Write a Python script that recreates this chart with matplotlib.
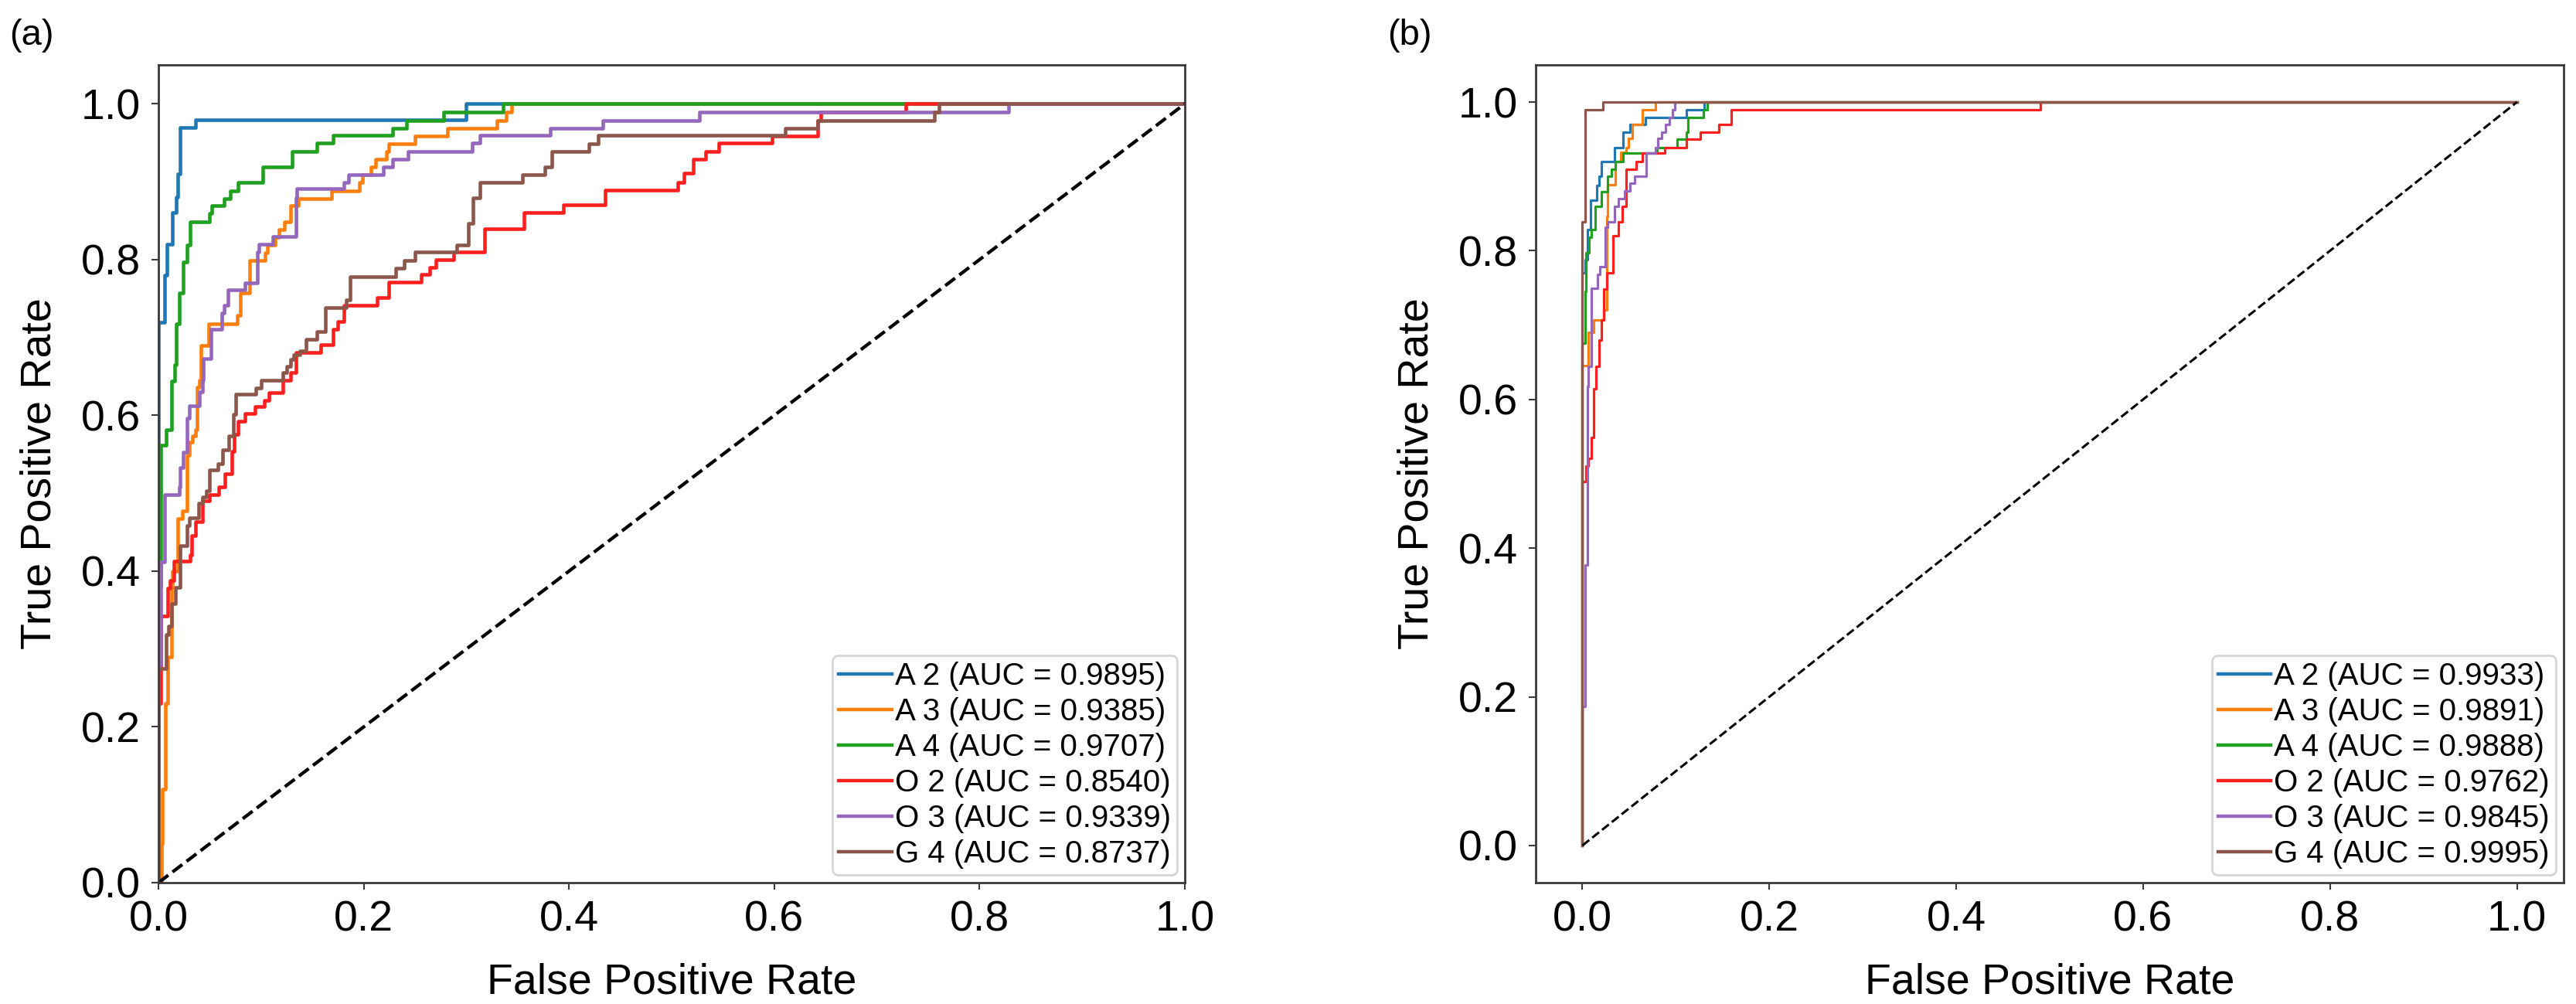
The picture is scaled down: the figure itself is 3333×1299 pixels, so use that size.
import matplotlib
matplotlib.use("Agg")
import matplotlib.pyplot as plt

plt.rcParams["font.family"] = ["Liberation Sans", "DejaVu Sans"]

# class names, colours and AUC values shown in the legends
CLASSES = ["A 2", "A 3", "A 4", "O 2", "O 3", "G 4"]
COLORS = ["#1f77b4", "#ff7f0e", "#1fa01f", "#ff1f1f", "#9467bd", "#8c564b"]
AUC_A = [0.9895, 0.9385, 0.9707, 0.8540, 0.9339, 0.8737]
AUC_B = [0.9933, 0.9891, 0.9888, 0.9762, 0.9845, 0.9995]

TICKS = [0.0, 0.2, 0.4, 0.6, 0.8, 1.0]

# ROC corner points, panel (a): at each fpr the curve steps up to tpr
a_A2_fpr = [0, 0, 0.006, 0.008, 0.0135, 0.017, 0.019, 0.021, 0.036, 0.300, 1.0]
a_A2_tpr = [0, 0.72, 0.78, 0.82, 0.86, 0.88, 0.91, 0.97, 0.98, 1.0, 1.0]

a_A3_fpr = [0, 0.003, 0.004, 0.007, 0.0088, 0.0125, 0.0135, 0.019, 0.0235, 0.0275,
            0.030, 0.0335, 0.036, 0.0375, 0.040, 0.0415, 0.049, 0.0765, 0.080, 0.089,
            0.104, 0.1065, 0.114, 0.1178, 0.1228, 0.129, 0.1366, 0.169, 0.1955, 0.199,
            0.207, 0.2118, 0.2218, 0.2243, 0.250, 0.282, 0.330, 0.339, 0.344, 1.0]
a_A3_tpr = [0, 0.05, 0.12, 0.23, 0.29, 0.38, 0.40, 0.467, 0.477, 0.549,
            0.566, 0.574, 0.582, 0.636, 0.645, 0.69, 0.718, 0.728, 0.757, 0.799,
            0.809, 0.819, 0.829, 0.839, 0.849, 0.869, 0.878, 0.888, 0.899, 0.909,
            0.919, 0.929, 0.939, 0.949, 0.959, 0.969, 0.979, 0.989, 1.0, 1.0]

a_A4_fpr = [0, 0, 0.0025, 0.0075, 0.0125, 0.016, 0.0175, 0.0205, 0.024, 0.0275,
            0.031, 0.050, 0.052, 0.064, 0.070, 0.0775, 0.1015, 0.130, 0.154, 0.1705,
            0.228, 0.242, 0.278, 0.336, 1.0]
a_A4_tpr = [0, 0.38, 0.562, 0.582, 0.644, 0.665, 0.718, 0.757, 0.797, 0.819,
            0.849, 0.859, 0.869, 0.878, 0.888, 0.899, 0.919, 0.939, 0.950, 0.960,
            0.969, 0.979, 0.989, 1.0, 1.0]

a_O2_fpr = [0, 0, 0.0025, 0.0088, 0.0113, 0.015, 0.031, 0.0326, 0.036, 0.0426,
            0.050, 0.0589, 0.065, 0.0714, 0.074, 0.0777, 0.084, 0.094, 0.1028, 0.1078,
            0.1216, 0.129, 0.134, 0.158, 0.170, 0.175, 0.181, 0.2128, 0.2243, 0.2557,
            0.2644, 0.2703, 0.2874, 0.318, 0.3564, 0.3947, 0.4352, 0.5059, 0.5117, 0.5214,
            0.533, 0.546, 0.598, 0.642, 0.6456, 0.7283, 1.0]
a_O2_tpr = [0, 0.23, 0.342, 0.378, 0.388, 0.413, 0.421, 0.446, 0.463, 0.490,
            0.498, 0.508, 0.525, 0.554, 0.576, 0.592, 0.602, 0.611, 0.619, 0.629,
            0.645, 0.655, 0.681, 0.691, 0.711, 0.721, 0.741, 0.751, 0.771, 0.781,
            0.790, 0.800, 0.810, 0.840, 0.860, 0.870, 0.889, 0.899, 0.911, 0.929,
            0.939, 0.950, 0.959, 0.979, 0.989, 1.0, 1.0]

a_O3_fpr = [0, 0, 0.0025, 0.0063, 0.020, 0.0213, 0.0238, 0.0275, 0.030, 0.040,
            0.0426, 0.044, 0.0515, 0.0615, 0.064, 0.0677, 0.084, 0.0965, 0.098, 0.1115,
            0.134, 0.135, 0.1805, 0.1855, 0.2193, 0.228, 0.243, 0.306, 0.313, 0.382,
            0.433, 0.527, 0.828, 1.0]
a_O3_tpr = [0, 0.28, 0.412, 0.498, 0.508, 0.533, 0.553, 0.596, 0.612, 0.630,
            0.645, 0.673, 0.711, 0.731, 0.741, 0.761, 0.770, 0.810, 0.820, 0.830,
            0.879, 0.891, 0.899, 0.909, 0.919, 0.929, 0.939, 0.950, 0.960, 0.969,
            0.979, 0.989, 1.0, 1.0]

a_G4_fpr = [0, 0, 0.0075, 0.010, 0.0125, 0.0163, 0.0213, 0.0275, 0.030, 0.0389,
            0.0426, 0.0464, 0.050, 0.0577, 0.0627, 0.0689, 0.0727, 0.0752, 0.0952, 0.1003,
            0.1216, 0.1253, 0.129, 0.1316, 0.1378, 0.144, 0.154, 0.163, 0.183, 0.1868,
            0.2311, 0.2398, 0.250, 0.2903, 0.3018, 0.3064, 0.3133, 0.3547, 0.3765, 0.3834,
            0.4196, 0.4283, 0.611, 0.642, 0.7559, 0.7605, 1.0]
a_G4_tpr = [0, 0.275, 0.319, 0.329, 0.358, 0.379, 0.433, 0.459, 0.468, 0.487,
            0.495, 0.503, 0.530, 0.538, 0.556, 0.574, 0.601, 0.627, 0.635, 0.645,
            0.655, 0.663, 0.672, 0.678, 0.683, 0.698, 0.708, 0.738, 0.748, 0.778,
            0.789, 0.799, 0.810, 0.819, 0.847, 0.879, 0.899, 0.909, 0.919, 0.939,
            0.949, 0.960, 0.969, 0.979, 0.989, 1.0, 1.0]

# panel (b)
b_A2_fpr = [0, 0, 0.0028, 0.0052, 0.0084, 0.0155, 0.018, 0.0204, 0.0342, 0.0438,
            0.0507, 0.0672, 0.1112, 0.1305, 1.0]
b_A2_tpr = [0, 0.77, 0.788, 0.829, 0.868, 0.888, 0.900, 0.920, 0.939, 0.960,
            0.970, 0.979, 0.990, 1.0, 1.0]

b_A3_fpr = [0, 0, 0.0066, 0.0121, 0.0231, 0.0259, 0.0273, 0.0355, 0.041, 0.0466,
            0.0493, 0.0534, 0.0645, 0.0782, 1.0]
b_A3_tpr = [0, 0.646, 0.69, 0.707, 0.72, 0.846, 0.889, 0.92, 0.932, 0.939,
            0.951, 0.97, 0.99, 1.0, 1.0]

b_A4_fpr = [0, 0, 0.0028, 0.0041, 0.0069, 0.0096, 0.0138, 0.0207, 0.0273, 0.0314,
            0.0355, 0.0438, 0.0796, 0.1016, 0.1112, 0.1126, 0.1291, 0.1333, 1.0]
b_A4_tpr = [0, 0.676, 0.745, 0.797, 0.818, 0.829, 0.860, 0.879, 0.900, 0.910,
            0.920, 0.931, 0.939, 0.950, 0.960, 0.979, 0.990, 1.0, 1.0]

b_O2_fpr = [0, 0, 0.004, 0.0066, 0.0094, 0.0121, 0.0149, 0.0176, 0.0204, 0.0231,
            0.0259, 0.0328, 0.0383, 0.0424, 0.0466, 0.0576, 0.0645, 0.0879, 0.1112, 0.1264,
            0.1457, 0.1594, 0.49, 1.0]
b_O2_tpr = [0, 0.49, 0.51, 0.521, 0.549, 0.614, 0.645, 0.68, 0.707, 0.749,
            0.77, 0.82, 0.839, 0.86, 0.91, 0.92, 0.931, 0.939, 0.95, 0.96,
            0.97, 0.99, 1.0, 1.0]

b_O3_fpr = [0, 0, 0.0028, 0.0052, 0.0066, 0.0094, 0.0163, 0.019, 0.0245, 0.0273,
            0.0342, 0.0383, 0.0452, 0.0507, 0.0562, 0.0686, 0.0782, 0.081, 0.0851, 0.0893,
            0.0934, 0.0961, 0.0989, 1.0]
b_O3_tpr = [0, 0.187, 0.377, 0.617, 0.645, 0.75, 0.768, 0.779, 0.832, 0.839,
            0.86, 0.87, 0.881, 0.891, 0.90, 0.931, 0.939, 0.951, 0.96, 0.97,
            0.979, 0.99, 1.0, 1.0]

b_G4_fpr = [0, 0, 0.0028, 0.0218, 1.0]
b_G4_tpr = [0, 0.839, 0.99, 1.0, 1.0]

CURVES_A = [(a_A2_fpr, a_A2_tpr), (a_A3_fpr, a_A3_tpr), (a_A4_fpr, a_A4_tpr),
            (a_O2_fpr, a_O2_tpr), (a_O3_fpr, a_O3_tpr), (a_G4_fpr, a_G4_tpr)]
CURVES_B = [(b_A2_fpr, b_A2_tpr), (b_A3_fpr, b_A3_tpr), (b_A4_fpr, b_A4_tpr),
            (b_O2_fpr, b_O2_tpr), (b_O3_fpr, b_O3_tpr), (b_G4_fpr, b_G4_tpr)]

W, H = 3333, 1299
SPINE = "#3a3a3a"


def draw_panel(ax, curves, aucs, lw, diag_lw):
    for (fpr, tpr), name, auc, c in zip(curves, CLASSES, aucs, COLORS):
        ax.plot(fpr, tpr, drawstyle="steps-post", color=c, lw=lw,
                label=f"{name} (AUC = {auc:.4f})")
    ax.plot([0, 1], [0, 1], "k--", lw=diag_lw)
    ax.set_xticks(TICKS)
    ax.set_yticks(TICKS)
    ax.set_xlabel("False Positive Rate", fontsize=40)
    ax.set_ylabel("True Positive Rate", fontsize=40)
    ax.xaxis.set_label_coords(0.5, -0.098)
    ax.yaxis.set_label_coords(-0.096, 0.5)
    ax.tick_params(labelsize=40, length=6.5, width=1.5, pad=10, color=SPINE)
    for s in ax.spines.values():
        s.set_color(SPINE)
        s.set_linewidth(2)
    leg = ax.legend(loc="lower right", fontsize=29, labelspacing=0.2,
                    handlelength=1.7, handletextpad=0.1, borderpad=0.2,
                    borderaxespad=0.25)
    leg.get_frame().set_linewidth(2)
    for h in leg.get_lines():
        h.set_linewidth(3.2)


fig = plt.figure(figsize=(W / 100, H / 100), dpi=100)
ax_a = fig.add_axes([205 / W, 1 - 1142 / H, 1328 / W, 1058 / H])
ax_b = fig.add_axes([1987 / W, 1 - 1142 / H, 1330 / W, 1058 / H])

draw_panel(ax_a, CURVES_A, AUC_A, 3.3, 3.1)
ax_a.set_xlim(0, 1)
ax_a.set_ylim(0, 1.05)

draw_panel(ax_b, CURVES_B, AUC_B, 2.3, 2.2)
ax_b.set_xlim(-0.05, 1.05)
ax_b.set_ylim(-0.05, 1.05)

fig.text(12 / W, 1 - 46 / H, "(a)", fontsize=34, ha="left", va="center")
fig.text(1795 / W, 1 - 46 / H, "(b)", fontsize=34, ha="left", va="center")

fig.savefig("out.png", dpi=100)
